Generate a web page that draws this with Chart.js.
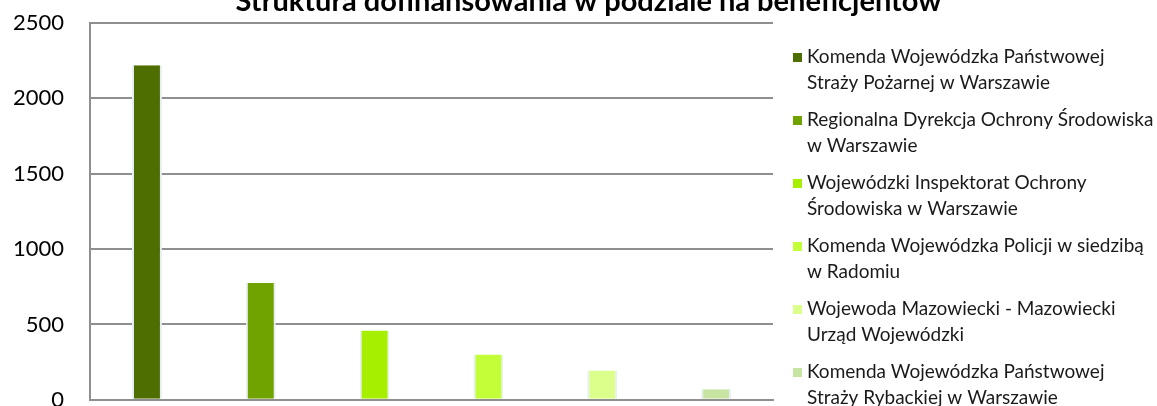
<!DOCTYPE html>
<html lang="pl">
<head>
    <meta charset="UTF-8">
    <title>Struktura dofinansowania</title>
    <script src="https://cdn.jsdelivr.net/npm/chart.js"></script>
    <style>
        html, body { margin: 0; padding: 0; background: #fff; overflow: hidden; }
        #wrap { width: 1157px; height: 416px; }
    </style>
</head>
<body>
    <div id="wrap"><canvas id="chart"></canvas></div>

    <script>
        const tytul = "Struktura dofinansowania w podziale na beneficjentów";

        // nazwy beneficjentow (podzielone na dwie linie jak w legendzie)
        const beneficjenci = [
            ["Komenda Wojewódzka Państwowej", "Straży Pożarnej w Warszawie"],
            ["Regionalna Dyrekcja Ochrony Środowiska", "w Warszawie"],
            ["Wojewódzki Inspektorat Ochrony", "Środowiska w Warszawie"],
            ["Komenda Wojewódzka Policji w siedzibą", "w Radomiu"],
            ["Wojewoda Mazowiecki - Mazowiecki", "Urząd Wojewódzki"],
            ["Komenda Wojewódzka Państwowej", "Straży Rybackiej w Warszawie"]
        ];
        const kwoty = [2220, 775, 460, 300, 195, 70];
        const osY = [0, 500, 1000, 1500, 2000, 2500];

        const kolory = ["#4f6e00", "#70a300", "#a6ef00", "#c3ff38", "#dbff8a", "#c7e4a3"];

        // legenda po prawej + tytul
        const legendaPlugin = {
            id: "legendaBeneficjentow",
            afterDraw(chart) {
                const { ctx, chartArea } = chart;
                const ds = chart.data.datasets[0];
                ctx.save();
                ctx.font = "19px Lato";
                ctx.textBaseline = "middle";
                chart.data.labels.forEach((linie, i) => {
                    const y = chartArea.top + 34 + i * 63;
                    ctx.fillStyle = ds.backgroundColor[i];
                    ctx.fillRect(chartArea.right + 20, y - 4, 9, 9);
                    ctx.fillStyle = "#1a1a1a";
                    linie.forEach((t, j) => ctx.fillText(t, chartArea.right + 34, y + j * 25.5));
                });
                ctx.font = "bold 29px Lato";
                ctx.textAlign = "center";
                ctx.textBaseline = "alphabetic";
                ctx.fillStyle = "#000";
                ctx.fillText(tytul, chart.width / 2 + 10, 11);
                ctx.restore();
            }
        };

        const ctx = document.getElementById("chart").getContext("2d");
        new Chart(ctx, {
            type: "bar",
            data: {
                labels: beneficjenci,
                datasets: [{
                    data: kwoty,
                    backgroundColor: kolory,
                    borderColor: "#e8eef6",
                    borderWidth: { left: 2, right: 2, top: 0, bottom: 0 },
                    barPercentage: 0.263,
                    categoryPercentage: 1
                }]
            },
            options: {
                responsive: true,
                maintainAspectRatio: false,
                animation: false,
                layout: { padding: { top: 23, left: 10, right: 384, bottom: 0 } },
                plugins: {
                    legend: { display: false },
                    title: { display: false },
                    tooltip: { enabled: false }
                },
                scales: {
                    x: {
                        ticks: { display: false },
                        grid: { display: false, drawTicks: false },
                        border: { display: true, color: "#8f8f8f", width: 2 }
                    },
                    y: {
                        min: 0,
                        max: 2500,
                        afterBuildTicks: (axis) => { axis.ticks = osY.map(v => ({ value: v })); },
                        ticks: {
                            padding: 3,
                            color: "#000",
                            font: { family: "Lato", size: 22 },
                            callback: (v) => String(v)
                        },
                        grid: {
                            color: "#8f8f8f",
                            lineWidth: 2,
                            drawTicks: true,
                            tickLength: 23,
                            tickColor: "rgba(0,0,0,0)"
                        },
                        border: { display: true, color: "#8f8f8f", width: 2 }
                    }
                }
            },
            plugins: [legendaPlugin]
        });
    </script>
</body>
</html>
